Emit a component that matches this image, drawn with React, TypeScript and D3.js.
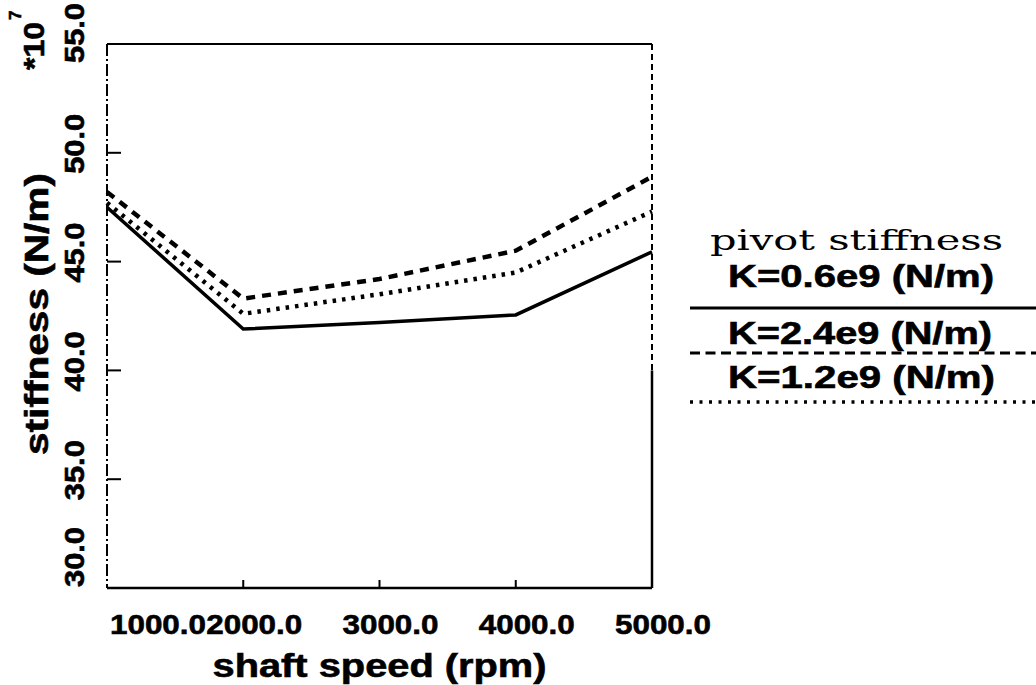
import React from 'react';
import * as d3 from 'd3';

// shaft speed (rpm)
const speeds = [1000, 2000, 3000, 4000, 5000];
// stiffness, units of 1e7 N/m
const stiffK06 = [47.5, 41.9, 42.2, 42.55, 45.45];
const stiffK24 = [48.2, 43.3, 44.2, 45.5, 48.9];
const stiffK12 = [47.7, 42.6, 43.5, 44.5, 47.3];

const seriesLabels = ['K=0.6e9 (N/m)', 'K=2.4e9 (N/m)', 'K=1.2e9 (N/m)'];
const xTicks = [1000, 2000, 3000, 4000, 5000];
const yTicks = [30, 35, 40, 45, 50, 55];

const W = 1036;
const H = 685;
const plot = { left: 107, right: 652, top: 44, bottom: 588 };

const bold = "'Liberation Sans', Arial, sans-serif";

export default function App() {
  const x = d3.scaleLinear().domain([1000, 5000]).range([plot.left, plot.right]);
  const y = d3.scaleLinear().domain([30, 55]).range([plot.bottom, plot.top]);

  const line = d3.line<number>()
    .x((_, i) => x(speeds[i]))
    .y(d => y(d));

  const series = [
    { label: seriesLabels[0], values: stiffK06, dash: undefined as string | undefined, width: 3.5 },
    { label: seriesLabels[1], values: stiffK24, dash: '9 7', width: 4.5 },
    { label: seriesLabels[2], values: stiffK12, dash: '3.5 6', width: 4.5 },
  ];

  const legendRows = [
    { baseline: 287, lineY: 308, dash: undefined as string | undefined, width: 3, textLen: 266 },
    { baseline: 344, lineY: 353, dash: '10 5.5', width: 3, textLen: 264 },
    { baseline: 388, lineY: 402, dash: '3 6.5', width: 3.5, textLen: 267 },
  ];

  return (
    <svg width={W} height={H} style={{ position: 'absolute', left: 0, top: 0, background: '#fff' }}>
      <rect width={W} height={H} fill="#fff" />

      {/* frame */}
      <g stroke="#000" fill="none">
        <line x1={plot.left} x2={plot.right} y1={plot.top} y2={plot.top} strokeWidth={2} />
        <line x1={plot.left} x2={plot.right} y1={plot.bottom} y2={plot.bottom} strokeWidth={2.5} />
        <line x1={plot.left} x2={plot.left} y1={plot.top} y2={plot.bottom} strokeWidth={2} strokeDasharray="12 3 2 3" />
        <line x1={plot.right} x2={plot.right} y1={plot.top} y2={y(40)} strokeWidth={2} strokeDasharray="6 4" />
        <line x1={plot.right} x2={plot.right} y1={y(40)} y2={plot.bottom} strokeWidth={2.5} />
      </g>

      {/* y ticks */}
      <g stroke="#000" strokeWidth={2}>
        {yTicks.map(v => (
          <line key={v} x1={plot.left} x2={plot.left + 14} y1={y(v)} y2={y(v)} />
        ))}
      </g>
      {/* x ticks */}
      <g stroke="#000" strokeWidth={2}>
        {xTicks.slice(1, -1).map(v => (
          <line key={v} x1={x(v)} x2={x(v)} y1={plot.bottom} y2={plot.bottom - 8} />
        ))}
      </g>

      {/* data */}
      {series.map(s => (
        <path
          key={s.label}
          d={line(s.values) || ''}
          fill="none"
          stroke="#000"
          strokeWidth={s.width}
          strokeDasharray={s.dash}
          strokeLinejoin="miter"
        />
      ))}

      <g fontFamily={bold} fontWeight="bold" fill="#000" stroke="#000" strokeWidth={0.6}>
        {/* y tick labels */}
        {yTicks.map((v, i) => {
          const off = i === 0 ? -31 : i === yTicks.length - 1 ? -11 : -9;
          return (
            <text
              key={v}
              transform={`translate(84,${y(v) + off}) rotate(-90)`}
              textAnchor="middle"
              fontSize={27}
              textLength={60}
              lengthAdjust="spacingAndGlyphs"
            >
              {v.toFixed(1)}
            </text>
          );
        })}
        <text transform="translate(44,70) rotate(-90)" fontSize={30} textLength={48} lengthAdjust="spacingAndGlyphs">*10</text>
        <text transform="translate(21,20) rotate(-90)" fontSize={17}>7</text>

        {/* y axis title */}
        <text
          transform="translate(48,314) rotate(-90)"
          textAnchor="middle"
          fontSize={33}
          textLength={282}
          lengthAdjust="spacingAndGlyphs"
        >
          stiffness (N/m)
        </text>

        {/* x tick labels */}
        {xTicks.map(v => (
          <text
            key={v}
            x={Math.max(x(v) - 37, plot.left + 3)}
            y={634}
            fontSize={28}
            textLength={96}
            lengthAdjust="spacingAndGlyphs"
          >
            {v.toFixed(1)}
          </text>
        ))}

        {/* x axis title */}
        <text
          x={x(3000)}
          y={677}
          textAnchor="middle"
          fontSize={34}
          textLength={334}
          lengthAdjust="spacingAndGlyphs"
        >
          shaft speed (rpm)
        </text>

        {/* legend entries */}
        {legendRows.map((r, i) => (
          <text
            key={i}
            x={728}
            y={r.baseline}
            fontSize={31}
            textLength={r.textLen}
            lengthAdjust="spacingAndGlyphs"
          >
            {seriesLabels[i]}
          </text>
        ))}
      </g>

      {/* legend */}
      <text
        x={710}
        y={250}
        fontFamily="'DejaVu Serif', serif"
        fontSize={28}
        textLength={293}
        lengthAdjust="spacingAndGlyphs"
      >
        pivot stiffness
      </text>
      {legendRows.map((r, i) => (
        <line
          key={i}
          x1={690}
          x2={W}
          y1={r.lineY}
          y2={r.lineY}
          stroke="#000"
          strokeWidth={r.width}
          strokeDasharray={r.dash}
        />
      ))}
    </svg>
  );
}
